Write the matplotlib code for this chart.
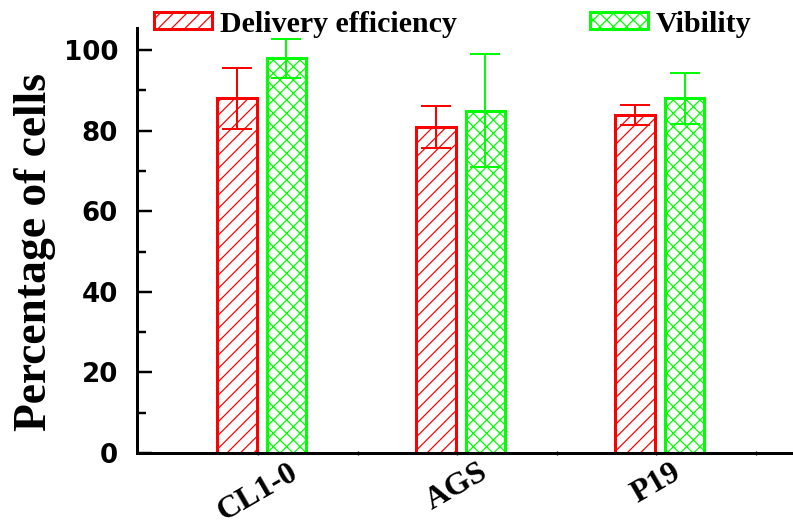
import matplotlib
matplotlib.use("Agg")
import matplotlib.pyplot as plt
import numpy as np
from matplotlib.ticker import MultipleLocator

# Data
categories = ["CL1-0", "AGS", "P19"]
delivery = [88.0, 81.0, 84.0]
delivery_err = [7.5, 5.2, 2.5]
viability = [98.0, 85.0, 88.0]
viability_err = [4.8, 14.0, 6.3]
series_labels = ["Delivery efficiency", "Vibility"]
y_ticks = [0, 20, 40, 60, 80, 100]

RED = "#FF0000"
GREEN = "#00FF00"

DPI = 80
W, H = 793, 529
plt.rcParams["hatch.linewidth"] = 1.1

fig = plt.figure(figsize=(W / DPI, H / DPI), dpi=DPI)
ax = fig.add_axes([137 / W, (H - 453) / H, (W - 137) / W, 425 / H])

x = np.arange(len(categories))
bw = 0.198

b1 = ax.bar(x - 0.1055, delivery, width=bw, facecolor="white", edgecolor=RED,
            hatch="//", linewidth=2.7, yerr=delivery_err,
            error_kw=dict(ecolor=RED, elinewidth=1.8, capsize=13.5, capthick=1.8),
            zorder=2)
b2 = ax.bar(x + 0.143, viability, width=bw, facecolor="white", edgecolor=GREEN,
            hatch="xx", linewidth=2.7, yerr=viability_err,
            error_kw=dict(ecolor=GREEN, elinewidth=1.8, capsize=13.5, capthick=1.8),
            zorder=2)

ax.set_xlim(-0.608, 2.688)
ax.set_ylim(0, 105.5)

for s in ("top", "right"):
    ax.spines[s].set_visible(False)
for s in ("left", "bottom"):
    ax.spines[s].set_linewidth(2.7)

ax.set_xticks(x)
ax.set_xticks(x + 0.5, minor=True)
ax.set_xticklabels(categories, rotation=30, ha="center", va="top",
                   fontfamily="Liberation Serif", fontweight="bold", fontsize=29)
ax.tick_params(axis="x", which="both", direction="inout", length=3, width=1.2, pad=3)

ax.set_yticks(y_ticks)
ax.yaxis.set_minor_locator(MultipleLocator(10))
ax.set_yticklabels([str(v) for v in y_ticks], fontfamily="DejaVu Sans",
                   fontweight="bold", fontsize=23.5)
ax.tick_params(axis="y", which="major", direction="in", length=13.5, width=2.2, pad=17)
ax.tick_params(axis="y", which="minor", direction="in", length=8, width=2.2)

ax.set_ylabel("Percentage of cells", fontfamily="Liberation Serif",
              fontweight="bold", fontsize=41, va="center")
ax.yaxis.set_label_coords(-0.155, 0.474)

leg_font = dict(family="Liberation Serif", weight="bold", size=27)
fs_px = 27 * DPI / 72
common = dict(loc="center left", frameon=False, borderpad=0, borderaxespad=0,
              handlelength=58 / fs_px, handleheight=15 / fs_px,
              handletextpad=8 / fs_px, prop=leg_font,
              bbox_transform=fig.transFigure)
leg1 = fig.legend(handles=[b1], labels=[series_labels[0]],
                  bbox_to_anchor=(154 / W, 1 - 24 / H), **common)
leg2 = fig.legend(handles=[b2], labels=[series_labels[1]],
                  bbox_to_anchor=(590 / W, 1 - 24 / H), **common)

fig.savefig("out.png", dpi=DPI)
